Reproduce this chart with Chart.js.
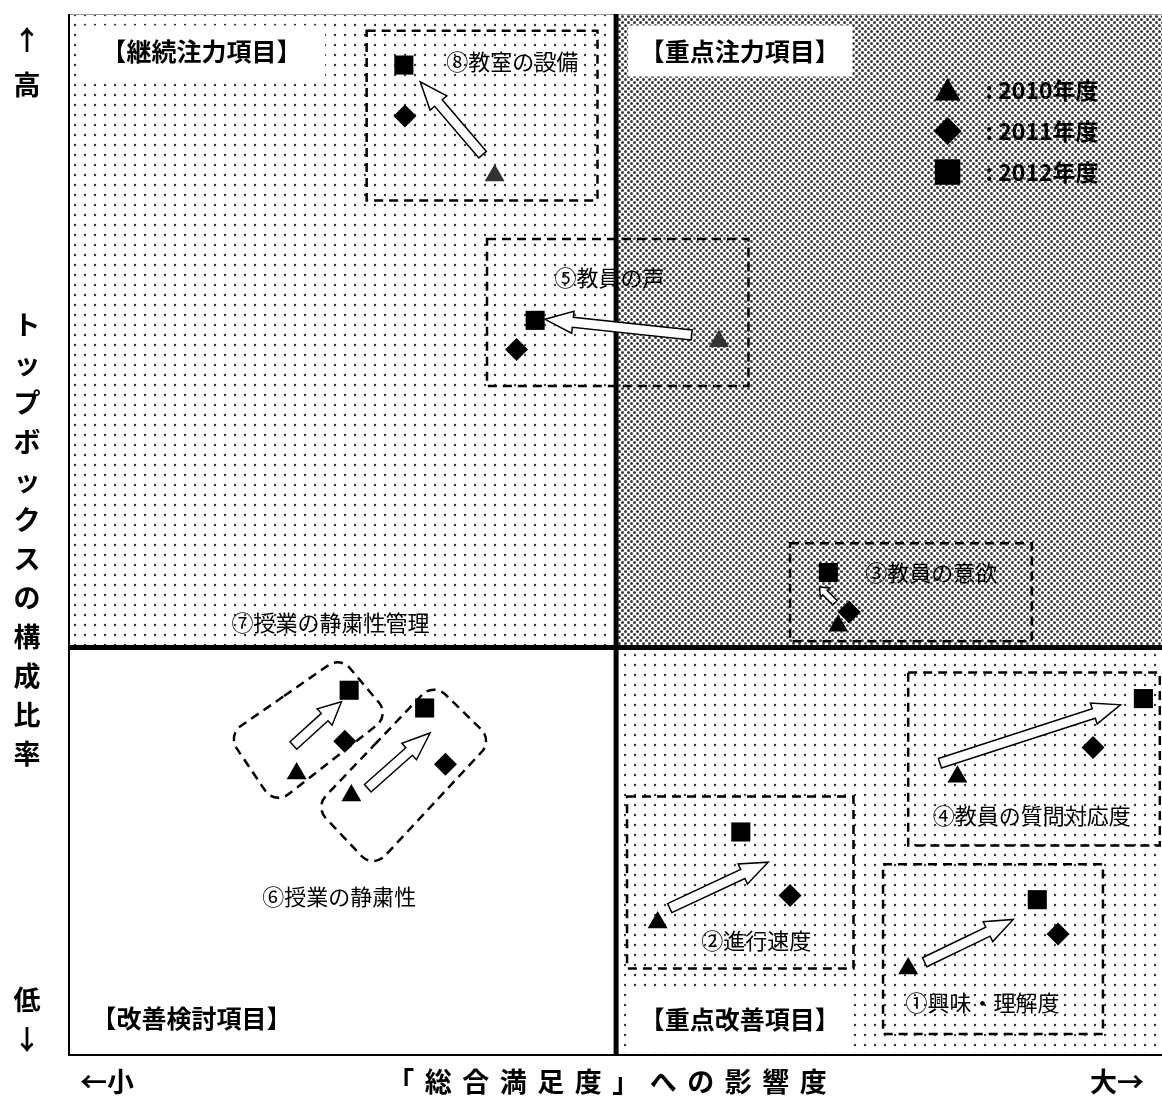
<!DOCTYPE html>
<html>
<head>
<meta charset="utf-8">
<script src="https://cdn.jsdelivr.net/npm/chart.js@4.4.0/dist/chart.umd.min.js"></script>
<style>
html, body { margin: 0; padding: 0; background: #fff; overflow: hidden; }
#wrap { width: 1162px; height: 1097px; position: relative; }
#chart1 { display: block; }
</style>
</head>
<body>
<div id="wrap"><canvas id="chart1"></canvas></div>
<script>
/* ---------------- data ---------------- */
const items = ["①興味・理解度", "②進行速度", "③教員の意欲", "④教員の質問対応度", "⑤教員の声", "⑥授業の静粛性", "⑦授業の静粛性管理", "⑧教室の設備"];
const years = ["2010年度", "2011年度", "2012年度"];

// x: 「総合満足度」への影響度, y: トップボックスの構成比率 (0-100 scale, no ticks)
const x2010 = [76.8, 53.9, 70.4, 81.3, 59.5, 25.9, 20.9, 39.0];
const y2010 = [8.4, 12.8, 41.3, 26.8, 68.6, 25.0, 27.1, 84.5];
const x2011 = [90.5, 66.0, 71.4, 93.7, 41.0, 34.5, 25.3, 30.8];
const y2011 = [11.7, 15.4, 42.6, 29.6, 67.8, 28.0, 30.2, 90.2];
const x2012 = [88.6, 61.5, 69.5, 98.3, 42.7, 32.6, 25.7, 30.7];
const y2012 = [15.0, 21.5, 46.4, 34.3, 70.6, 33.4, 35.1, 95.1];

const quadrantNames = ["【継続注力項目】", "【重点注力項目】", "【改善検討項目】", "【重点改善項目】"];
const yAxisTop = ["↑", "高"];
const yAxisName = "トップボックスの構成比率";
const yAxisBottom = ["低", "↓"];
const xAxisLeft = "←小";
const xAxisName = "「総合満足度」への影響度";
const xAxisRight = "大→";

/* ---------------- annotation layout (data units) ---------------- */
const xDivider = 50.1;
const yDivider = 39.2;

// label anchors for each item
const labelX = [83.6, 62.9, 78.9, 88.1, 49.5, 24.8, 24.0, 40.6];
const labelY = [5.1, 11.1, 46.4, 23.1, 74.7, 15.3, 41.6, 95.4];

// arrows 2010 -> 2012 (tail, tip)
const arrowFromX = [78.3, 55.0, 70.1, 79.7, 57.0, 27.4, 20.6, 37.9];
const arrowFromY = [9.0, 14.2, 43.5, 28.1, 69.2, 25.7, 29.8, 86.5];
const arrowToX = [86.4, 64.0, 68.7, 96.2, 43.6, 33.1, 25.0, 32.2];
const arrowToY = [13.1, 18.6, 45.0, 33.7, 70.7, 31.0, 34.0, 93.5];

// dashed group boxes [x1, x2, yTop, yBottom] for ① ② ③ ④ ⑤ ⑧
const boxes = [
  [74.5, 94.6, 18.4, 2.1],
  [51.1, 71.8, 24.9, 8.4],
  [66.0, 88.1, 49.2, 39.8],
  [76.8, 99.8, 36.8, 20.2],
  [38.3, 62.2, 78.4, 64.3],
  [27.3, 48.4, 98.4, 82.1]
];
// tilted rounded boxes for ⑥ and ⑦
const tiltBoxes = [
  [[33.4, 35.8], [38.8, 30.3], [27.9, 18.0], [22.6, 23.9]],
  [[24.9, 38.3], [29.4, 32.7], [18.9, 24.1], [14.6, 30.8]]
];

// quadrant label anchors and white backing boxes
const qLabelX = [12.2, 61.4, 11.3, 61.4];
const qLabelY = [96.4, 96.4, 3.6, 3.5];
const qBoxes = [
  [0.9, 23.5, 98.9, 93.9],
  [51.2, 71.7, 98.9, 94.0],
  null,
  [51.2, 71.7, 6.0, 0.6]
];
const legendX = 80.4, legendY = 92.7;

/* ---------------- patterns ---------------- */
function dotPattern(size, dots, r, color) {
  const c = document.createElement("canvas");
  c.width = size; c.height = size;
  const g = c.getContext("2d");
  g.fillStyle = "#fff";
  g.fillRect(0, 0, size, size);
  g.fillStyle = color;
  dots.forEach(d => { g.beginPath(); g.arc(d[0], d[1], r, 0, Math.PI * 2); g.fill(); });
  return c;
}
const sparse = dotPattern(10, [[5, 5]], 1.2, "#333");
const dense = dotPattern(6, [[1.5, 1.5], [4.5, 4.5]], 1.5, "#3a3a3a");

const JP = '"Noto Sans CJK JP", "Noto Sans", sans-serif';

function drawArrow(ctx, x1, y1, x2, y2) {
  const dx = x2 - x1, dy = y2 - y1;
  const len = Math.hypot(dx, dy);
  const ux = dx / len, uy = dy / len, nx = -uy, ny = ux;
  const head = Math.min(28, len * 0.35);
  const hw = Math.min(11, len * 0.3);
  const sw = Math.min(5, len * 0.14);
  const bx = x2 - ux * head, by = y2 - uy * head;
  ctx.beginPath();
  ctx.moveTo(x1 + nx * sw, y1 + ny * sw);
  ctx.lineTo(bx + nx * sw, by + ny * sw);
  ctx.lineTo(bx + nx * hw, by + ny * hw);
  ctx.lineTo(x2, y2);
  ctx.lineTo(bx - nx * hw, by - ny * hw);
  ctx.lineTo(bx - nx * sw, by - ny * sw);
  ctx.lineTo(x1 - nx * sw, y1 - ny * sw);
  ctx.closePath();
  ctx.fillStyle = "#fff";
  ctx.fill();
  ctx.lineWidth = 1.5;
  ctx.strokeStyle = "#000";
  ctx.stroke();
}

function roundPoly(ctx, pts, r) {
  const n = pts.length;
  const mid = (a, b) => [(a[0] + b[0]) / 2, (a[1] + b[1]) / 2];
  const start = mid(pts[n - 1], pts[0]);
  ctx.beginPath();
  ctx.moveTo(start[0], start[1]);
  for (let i = 0; i < n; i++) {
    const p = pts[i], q = pts[(i + 1) % n];
    const m = mid(p, q);
    ctx.arcTo(p[0], p[1], m[0], m[1], r);
  }
  ctx.closePath();
}

const quadrantPlugin = {
  id: "quadrants",
  beforeDatasetsDraw(chart) {
    const ctx = chart.ctx, a = chart.chartArea;
    const sx = chart.scales.x, sy = chart.scales.y;
    const X = v => sx.getPixelForValue(v), Y = v => sy.getPixelForValue(v);
    const xm = X(xDivider), ym = Y(yDivider);
    ctx.save();
    ctx.fillStyle = ctx.createPattern(sparse, "repeat");
    ctx.fillRect(a.left, a.top, xm - a.left, ym - a.top);
    ctx.fillRect(xm, ym, a.right - xm, a.bottom - ym);
    ctx.fillStyle = ctx.createPattern(dense, "repeat");
    ctx.fillRect(xm, a.top, a.right - xm, ym - a.top);

    // white backing for quadrant names
    ctx.fillStyle = "#fff";
    qBoxes.forEach(b => {
      if (!b) return;
      ctx.fillRect(X(b[0]), Y(b[2]), X(b[1]) - X(b[0]), Y(b[3]) - Y(b[2]));
    });

    // frame + dividers
    ctx.strokeStyle = "#999";
    ctx.lineWidth = 1;
    ctx.beginPath(); ctx.moveTo(a.left, a.top + 0.5); ctx.lineTo(a.right, a.top + 0.5); ctx.stroke();
    ctx.strokeStyle = "#000";
    ctx.lineWidth = 2;
    ctx.beginPath();
    ctx.moveTo(a.left + 1, a.top); ctx.lineTo(a.left + 1, a.bottom - 1); ctx.lineTo(a.right, a.bottom - 1);
    ctx.stroke();
    ctx.lineWidth = 5;
    ctx.beginPath();
    ctx.moveTo(xm, a.top); ctx.lineTo(xm, a.bottom);
    ctx.moveTo(a.left, ym); ctx.lineTo(a.right, ym);
    ctx.stroke();

    // dashed group boxes
    ctx.setLineDash([9, 6]);
    ctx.lineWidth = 2.5;
    boxes.forEach(b => {
      ctx.strokeRect(X(b[0]), Y(b[2]), X(b[1]) - X(b[0]), Y(b[3]) - Y(b[2]));
    });
    tiltBoxes.forEach(t => {
      roundPoly(ctx, t.map(p => [X(p[0]), Y(p[1])]), 16);
      ctx.stroke();
    });
    ctx.setLineDash([]);

    // arrows
    items.forEach((_, i) => {
      drawArrow(ctx, X(arrowFromX[i]), Y(arrowFromY[i]), X(arrowToX[i]), Y(arrowToY[i]));
    });

    // item labels
    ctx.fillStyle = "#000";
    ctx.textAlign = "center";
    ctx.textBaseline = "middle";
    ctx.font = "22px " + JP;
    items.forEach((t, i) => ctx.fillText(t, X(labelX[i]), Y(labelY[i])));

    // quadrant names
    ctx.font = "bold 25px " + JP;
    quadrantNames.forEach((t, i) => ctx.fillText(t, X(qLabelX[i]), Y(qLabelY[i])));

    // legend
    const lx = X(legendX), ly = Y(legendY);
    const styles = chart.data.datasets;
    const legendR = [15, 14, 18];
    styles.forEach((ds, i) => {
      ctx.fillStyle = "#000";
      Chart.helpers.drawPoint(ctx, { pointStyle: ds.pointStyle, radius: legendR[i], rotation: 0, borderWidth: 0 }, lx, ly + i * 41 + (i === 0 ? 3 : 0));
      ctx.textAlign = "left";
      ctx.font = "bold 23px " + JP;
      ctx.fillText(": " + years[i], lx + 38, ly + i * 41);
    });
    ctx.restore();
  },
  afterDraw(chart) {
    const ctx = chart.ctx, a = chart.chartArea;
    ctx.save();
    ctx.fillStyle = "#000";
    ctx.textAlign = "center";
    ctx.textBaseline = "middle";
    ctx.font = "bold 27px " + JP;
    const cx = 27;
    ctx.fillText(yAxisTop[0], cx, 40);
    ctx.fillText(yAxisTop[1], cx, 85);
    Array.from(yAxisName).forEach((ch, i) => ctx.fillText(ch, cx, 325 + i * 39));
    ctx.fillText(yAxisBottom[0], cx, 1000);
    ctx.fillText(yAxisBottom[1], cx, 1040);

    const by = a.bottom + 26;
    ctx.fillText(xAxisLeft, 107, by);
    ctx.fillText(xAxisRight, 1117, by);
    const chars = Array.from(xAxisName);
    const step = 37.5, x0 = 607 - step * (chars.length - 1) / 2;
    chars.forEach((ch, i) => ctx.fillText(ch, x0 + i * step, by));
    ctx.restore();
  }
};

/* ---------------- chart ---------------- */
function pts(xs, ys) { return xs.map((v, i) => ({ x: v, y: ys[i] })); }

const ctx1 = chart1.getContext("2d");
const config1 = {
  type: "scatter",
  data: {
    datasets: [
      {
        label: years[0],
        data: pts(x2010, y2010),
        pointStyle: "triangle",
        pointRadius: 11.5,
        pointBackgroundColor: ["#000", "#000", "#000", "#000", "#333", "#000", "#000", "#333"],
        pointBorderWidth: 0
      },
      {
        label: years[1],
        data: pts(x2011, y2011),
        pointStyle: "rectRot",
        pointRadius: 11.5,
        pointBackgroundColor: "#000",
        pointBorderWidth: 0
      },
      {
        label: years[2],
        data: pts(x2012, y2012),
        pointStyle: "rect",
        pointRadius: 13.5,
        pointBackgroundColor: "#000",
        pointBorderWidth: 0
      }
    ]
  },
  options: {
    responsive: true,
    maintainAspectRatio: false,
    animation: false,
    events: [],
    layout: { autoPadding: false, padding: { left: 68, top: 14, right: 0, bottom: 41 } },
    scales: {
      x: { type: "linear", min: 0, max: 100, display: false },
      y: { type: "linear", min: 0, max: 100, display: false }
    },
    plugins: {
      legend: { display: false },
      tooltip: { enabled: false }
    }
  },
  plugins: [quadrantPlugin]
};

const myChart1 = new Chart(ctx1, config1);
</script>
</body>
</html>
